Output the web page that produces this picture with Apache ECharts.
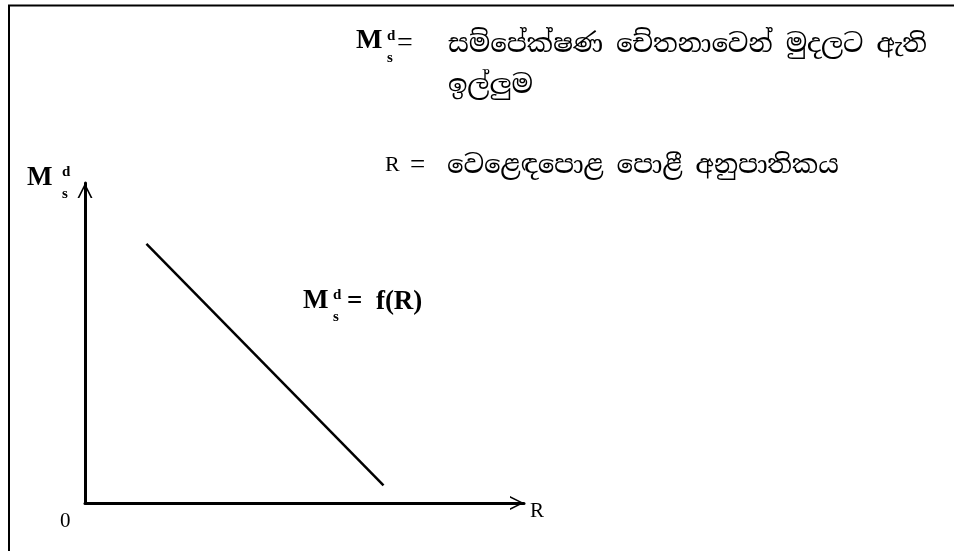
<!DOCTYPE html>
<html>
<head>
<meta charset="utf-8">
<script src="https://cdn.jsdelivr.net/npm/echarts@6/dist/echarts.min.js"></script>
<style>
html,body{margin:0;padding:0;background:#fff;}
#chart{width:954px;height:551px;}
</style>
</head>
<body>
<div id="chart"></div>
<script>
// Interest rate R (x) and speculative money demand Md_s (y) at the two ends of the line
var rValues = [1.4, 6.8];
var mdValues = [8.1, 0.55];
var axisLabelX = 'R';
var originLabel = '0';
var defLine1 = 'සම්පේක්ෂණ චේතනාවෙන් මුදලට ඇති';
var defLine2 = 'ඉල්ලුම';
var defR = 'වෙළෙඳපොළ පොළී අනුපාතිකය';
var funcText = '=  f(R)';

var lineData = rValues.map(function (r, i) { return [r, mdValues[i]]; });

var chevron = 'path://M0,20 L10,0 L20,20 L17.6,20 L10,4.6 L2.4,20 Z';
var serifBold = '"Liberation Serif", "Times New Roman", serif';
var serif = '"Liberation Serif", "DejaVu Serif", serif';
var sinhala = '"Noto Serif Sinhala", "Noto Sans Sinhala", "Iskoola Pota", sans-serif';

function mds(x, y, size, gap, supDy, subDy) {
  var sub = 15;
  return [
    { type: 'text', style: { x: x, y: y, text: 'M', font: 'bold ' + size + 'px ' + serifBold, fill: '#000', verticalAlign: 'middle', align: 'left' } },
    { type: 'text', style: { x: x + gap, y: y + supDy, text: 'd', font: 'bold ' + sub + 'px ' + serifBold, fill: '#000', verticalAlign: 'middle', align: 'left' } },
    { type: 'text', style: { x: x + gap, y: y + subDy, text: 's', font: 'bold ' + sub + 'px ' + serifBold, fill: '#000', verticalAlign: 'middle', align: 'left' } }
  ];
}

var graphics = [
  { type: 'rect', shape: { x: 9, y: 5.5, width: 1000, height: 700 }, style: { fill: 'none', stroke: '#000', lineWidth: 2 } }
];
graphics = graphics.concat(mds(356, 41, 28, 31, -5, 17));
graphics.push({ type: 'text', style: { x: 397, y: 44, text: '=', font: '28px ' + serif, fill: '#000', verticalAlign: 'middle' } });
graphics.push({ type: 'text', style: { x: 448, y: 45, text: defLine1, font: '26px ' + sinhala, fill: '#000', verticalAlign: 'middle' } });
graphics.push({ type: 'text', style: { x: 448, y: 86, text: defLine2, font: '26px ' + sinhala, fill: '#000', verticalAlign: 'middle' } });
graphics.push({ type: 'text', style: { x: 385, y: 165, text: 'R', font: '22px ' + serif, fill: '#000', verticalAlign: 'middle' } });
graphics.push({ type: 'text', style: { x: 410, y: 166, text: '=', font: '27px ' + serif, fill: '#000', verticalAlign: 'middle' } });
graphics.push({ type: 'text', style: { x: 447, y: 166, text: defR, font: '26px ' + sinhala, fill: '#000', verticalAlign: 'middle' } });
graphics = graphics.concat(mds(27, 178, 27, 35, -6, 16));
graphics = graphics.concat(mds(303, 301, 27, 30, -6, 16));
graphics.push({ type: 'text', style: { x: 347, y: 302, text: funcText, font: 'bold 27px ' + serifBold, fill: '#000', verticalAlign: 'middle' } });
graphics.push({ type: 'text', style: { x: 60, y: 521, text: originLabel, font: '21px ' + serif, fill: '#000', verticalAlign: 'middle' } });
graphics.push({ type: 'text', style: { x: 530, y: 511, text: axisLabelX, font: '21px ' + serif, fill: '#000', verticalAlign: 'middle' } });

var chart = echarts.init(document.getElementById('chart'), null, { renderer: 'canvas' });
chart.setOption({
  animation: false,
  backgroundColor: '#fff',
  grid: { left: 85, right: 430, top: 183, bottom: 48, containLabel: false },
  xAxis: {
    type: 'value', min: 0, max: 10,
    axisLine: { show: true, onZero: false, symbol: ['none', chevron], symbolSize: [14, 14], symbolOffset: [0, -7], lineStyle: { color: '#000', width: 3 } },
    axisTick: { show: false }, axisLabel: { show: false }, splitLine: { show: false }
  },
  yAxis: {
    type: 'value', min: 0, max: 10,
    axisLine: { show: true, onZero: false, symbol: ['none', chevron], symbolSize: [15, 15], symbolOffset: [0, -7.5], lineStyle: { color: '#000', width: 3 } },
    axisTick: { show: false }, axisLabel: { show: false }, splitLine: { show: false }
  },
  series: [{
    type: 'line', data: lineData, symbol: 'none', silent: true,
    lineStyle: { color: '#000', width: 2.5 }
  }],
  graphic: graphics
});
</script>
</body>
</html>
